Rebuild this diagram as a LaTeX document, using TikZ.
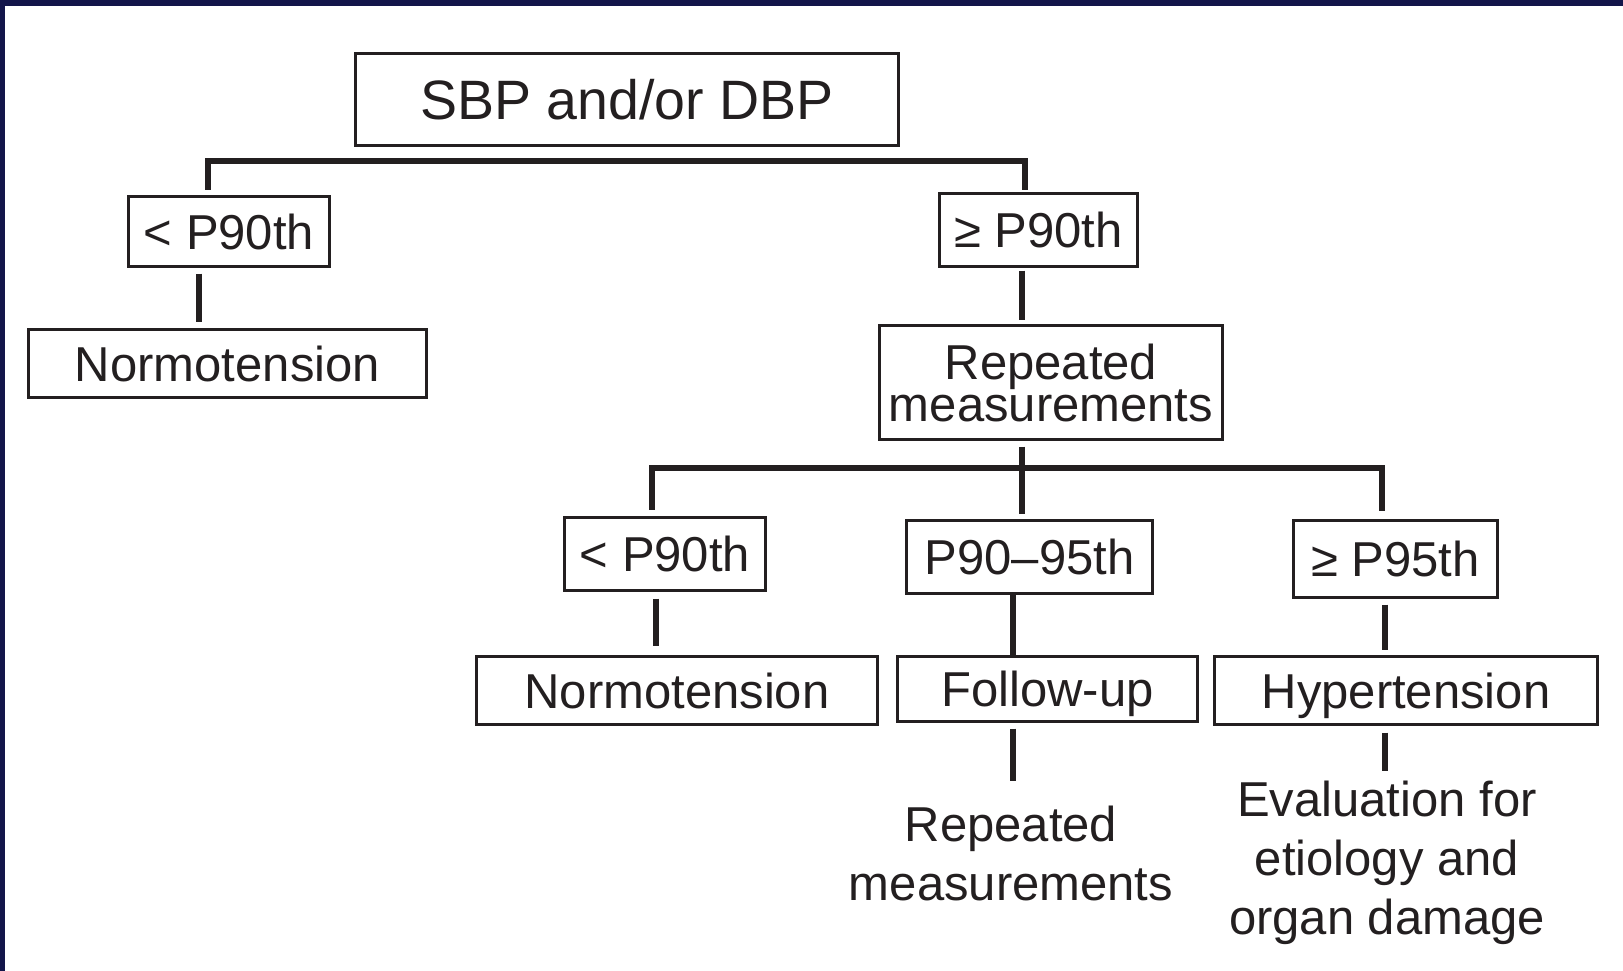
\documentclass[tikz,border=0pt]{standalone}
\usepackage{fontspec}
\setmainfont{Liberation Sans}
\definecolor{ink}{HTML}{231F20}
\definecolor{navy}{HTML}{13154A}
\tikzset{
  box/.style={draw=ink, line width=3pt, inner sep=0pt, text=ink,
    font=\fontsize{49}{42}\selectfont, text height=35pt, text depth=0pt},
  plaintxt/.style={text=ink, inner sep=0pt, align=center,
    font=\fontsize{49}{59}\selectfont, text depth=0pt},
  conn/.style={draw=ink, line width=6pt, line join=miter}
}
\begin{document}
\begin{tikzpicture}[x=1pt, y=-1pt]
\useasboundingbox (0,0) rectangle (1623,971);
\fill[white] (0,0) rectangle (1623,971);
\fill[navy] (0,0) rectangle (1623,6);
\fill[navy] (0,0) rectangle (5,971);

% nodes
\node[box, minimum width=543pt, minimum height=92pt, font=\fontsize{55.5}{55.5}\selectfont, text height=39.5pt] (sbp) at (627,99.5) {SBP and/or DBP};
\node[box, minimum width=201pt, minimum height=70pt] (lt) at (229,231.5) {< P90th};
\node[box, minimum width=398pt, minimum height=68pt] (norm1) at (227.5,363.5) {Normotension};
\node[box, minimum width=198pt, minimum height=73pt] (ge) at (1038.5,230) {≥ P90th};
\node[box, minimum width=343pt, minimum height=114pt, align=center, text height=77pt] (rep) at (1051,382.5) {Repeated\\measurements};
\node[box, minimum width=201pt, minimum height=73pt] (lt2) at (665,554) {< P90th};
\node[box, minimum width=246pt, minimum height=73pt] (pmid) at (1029.5,557) {P90–95th};
\node[box, minimum width=204pt, minimum height=77pt] (ge95) at (1395.5,559) {≥ P95th};
\node[box, minimum width=401pt, minimum height=68pt] (norm2) at (677,690.5) {Normotension};
\node[box, minimum width=300pt, minimum height=65pt] (follow) at (1047.5,689) {Follow-up};
\node[box, minimum width=383pt, minimum height=68pt] (hyp) at (1406,690.5) {Hypertension};
\node[plaintxt, text height=94pt] (rmtxt) at (1011,853.5) {Repeated\\measurements};
\node[plaintxt, text height=153pt] (evtxt) at (1387,858) {Evaluation for\\etiology and\\organ damage};

% connectors
\draw[conn] ([xshift=-21pt,yshift=5.5pt]lt.north) -- ++(0,-28) -| ([xshift=-13.5pt,yshift=2.5pt]ge.north);
\draw[conn] ([xshift=-30pt,yshift=-5.5pt]lt.south) -- ([xshift=-28.5pt,yshift=6.5pt]norm1.north);
\draw[conn] ([xshift=-16.5pt,yshift=-2.5pt]ge.south) -- ([xshift=-29pt,yshift=4.5pt]rep.north);
\draw[conn] ([xshift=-29pt,yshift=-5.5pt]rep.south) -- ([xshift=-7.5pt,yshift=5.5pt]pmid.north);
\draw[conn] ([xshift=-13pt,yshift=6.5pt]lt2.north) -- ++(0,-42) -| ([xshift=-13.5pt,yshift=8.5pt]ge95.north);
\draw[conn] ([xshift=-9pt,yshift=-6.5pt]lt2.south) -- ([xshift=-21pt,yshift=9.5pt]norm2.north);
\draw[conn] ([xshift=-16.5pt]pmid.south) -- ([xshift=-34.5pt]follow.north);
\draw[conn] ([xshift=-10.5pt,yshift=-5.5pt]ge95.south) -- ([xshift=-21pt,yshift=5.5pt]hyp.north);
\draw[conn] ([xshift=-34.5pt,yshift=-5.5pt]follow.south) -- ([xshift=2pt,yshift=25pt]rmtxt.north);
\draw[conn] ([xshift=-21pt,yshift=-6.5pt]hyp.south) -- ([xshift=-2pt,yshift=10pt]evtxt.north);
\end{tikzpicture}
\end{document}
